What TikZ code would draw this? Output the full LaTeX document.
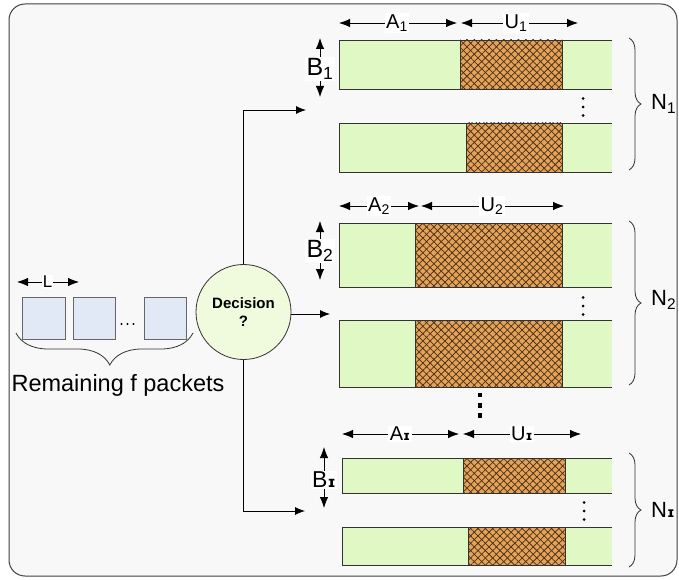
\documentclass[tikz,border=0pt]{standalone}
\usepackage{fontspec}
\setmainfont{Liberation Sans}
\newfontfamily\ipafont{DejaVu Sans}
\usetikzlibrary{arrows.meta,patterns.meta,decorations.pathreplacing}

\definecolor{panelbg}{HTML}{F8F8F8}
\definecolor{slotgreen}{HTML}{E0F8C4}
\definecolor{busyfill}{HTML}{E4A358}
\definecolor{busyline}{HTML}{4A3018}
\definecolor{pktfill}{HTML}{E1E9F6}
\definecolor{decfill}{HTML}{F0FADC}
\definecolor{edgec}{HTML}{333333}

\tikzset{
  conn/.style={draw=black, line width=0.8pt, -{Latex[length=10pt,width=8pt]}},
  dimarrow/.style={draw=black, line width=0.8pt,
    {Latex[length=11pt,width=8.5pt]}-{Latex[length=11pt,width=8.5pt]}},
  dimlab/.style={fill=white, inner sep=1.5pt, font=\fontsize{20}{20}\selectfont},
  blab/.style={fill=white, inner sep=1.5pt, font=\fontsize{25}{25}\selectfont},
  nlab/.style={anchor=west, inner sep=0pt, font=\fontsize{22}{22}\selectfont},
  rbrace/.style={draw=edgec, line width=0.8pt,
    decorate, decoration={brace, amplitude=12pt}},
  packet/.style={draw=black!60, line width=0.8pt, fill=pktfill},
  baredge/.style={draw=edgec, line width=0.8pt},
  smalldot/.style={fill=black},
}

% one slot row: x0, y-top, y-bottom, busy-from, busy-to
\newcommand\slotrow[5]{%
  \fill[slotgreen] (#1,#2) rectangle (612,#3);
  \fill[busyfill] (#4,#2) rectangle (#5,#3);
  \fill[pattern={Lines[angle=45,distance=5.2pt,line width=0.75pt]},
        pattern color=busyline] (#4,#2) rectangle (#5,#3);
  \fill[pattern={Lines[angle=-45,distance=5.2pt,line width=0.75pt]},
        pattern color=busyline] (#4,#2) rectangle (#5,#3);
  \draw[baredge] (612,#2) -- (#1,#2) -- (#1,#3) -- (612,#3);
  \draw[baredge] (#4,#2) rectangle (#5,#3);
}
\newcommand\threedots[2]{%
  \fill[smalldot] (#1,#2-8.5) circle (1.5);
  \fill[smalldot] (#1,#2) circle (1.5);
  \fill[smalldot] (#1,#2+8.5) circle (1.5);
}

\begin{document}
\begin{tikzpicture}[x=1pt,y=-1pt]
\useasboundingbox (0,0) rectangle (679,580);
\fill[white] (0,0) rectangle (679,580);
\draw[draw=black!75, line width=1pt, fill=panelbg, rounded corners=16pt]
  (9,4) rectangle (677,576);

% ---------- packets ----------
\node[packet, minimum width=43pt, minimum height=42pt, inner sep=0pt] (p1) at (43.5,318) {};
\node[packet, minimum width=42pt, minimum height=42pt, inner sep=0pt] (p2) at (94,318) {};
\node[packet, minimum width=42pt, minimum height=42pt, inner sep=0pt] (p3) at (165,318) {};
\fill (121.5,324) circle (1.2) (127.5,324) circle (1.2) (133.5,324) circle (1.2);
\coordinate (la) at (17,282);
\coordinate (lb) at (79,282);
\draw[dimarrow] (la) -- (lb);
\node[fill=white, inner sep=1pt, font=\fontsize{17}{17}\selectfont] (lL) at (47.5,282) {L};
\draw[draw=edgec, line width=0.8pt, decorate,
      decoration={brace, amplitude=32pt, aspect=0.47}] (193,333) -- (16,333);
\node[font=\fontsize{23.5}{23.5}\selectfont, inner sep=0pt] (rem) at (118,385) {Remaining f packets};

% ---------- decision ----------
\node[circle, draw=edgec, line width=0.8pt, fill=decfill, minimum size=95pt,
      inner sep=0pt, align=center, font=\bfseries\fontsize{15}{18}\selectfont]
  (dec) at (243.5,312) {Decision\\?};

\coordinate (g1in) at (306,110);
\coordinate (g2in) at (330,314);
\coordinate (g3in) at (305,511);
\draw[conn] (dec.north) |- (g1in);
\draw[conn] (dec.east |- g2in) -- (g2in);
\draw[conn] (dec.south) |- (g3in);

% ---------- group 1 ----------
\slotrow{339}{40}{89}{460}{562}
\slotrow{339}{123}{172}{466}{562}
\threedots{583}{107}
\coordinate (a1l) at (339,23); \coordinate (a1r) at (457,23);
\coordinate (u1l) at (461,23); \coordinate (u1r) at (578,23);
\draw[dimarrow] (a1l) -- (a1r);
\draw[dimarrow] (u1l) -- (u1r);
\node[dimlab] (A1) at (397,23) {A\textsubscript{1}};
\node[dimlab] (U1) at (516,23) {U\textsubscript{1}};
\coordinate (b1t) at (320,38); \coordinate (b1b) at (320,97);
\draw[dimarrow] (b1t) -- (b1b);
\node[blab] (B1) at (320,69) {B\textsubscript{1}};
\draw[rbrace] (629,38) -- (629,170);
\node[nlab] (N1) at (651,104) {N\textsubscript{1}};

% ---------- group 2 ----------
\slotrow{339}{223}{287}{415}{562}
\slotrow{339}{320}{387}{415}{562}
\threedots{583}{306}
\coordinate (a2l) at (339,206); \coordinate (a2r) at (419,206);
\coordinate (u2l) at (421,206); \coordinate (u2r) at (564,206);
\draw[dimarrow] (a2l) -- (a2r);
\draw[dimarrow] (u2l) -- (u2r);
\node[dimlab] (A2) at (379,206) {A\textsubscript{2}};
\node[dimlab] (U2) at (492,206) {U\textsubscript{2}};
\coordinate (b2t) at (320,221); \coordinate (b2b) at (320,280);
\draw[dimarrow] (b2t) -- (b2b);
\node[blab] (B2) at (320,251) {B\textsubscript{2}};
\draw[rbrace] (629,221) -- (629,385);
\node[nlab] (N2) at (651,300) {N\textsubscript{2}};

% gap between groups
\fill (477.6,392.6) rectangle ++(4.8,4.8);
\fill (477.6,403.0) rectangle ++(4.8,4.8);
\fill (477.6,413.4) rectangle ++(4.8,4.8);

% ---------- group I ----------
\slotrow{342}{458}{493}{463}{565}
\slotrow{342}{527}{565}{468}{565}
\threedots{584}{511}
\coordinate (ail) at (342,434); \coordinate (air) at (459,434);
\coordinate (uil) at (463,434); \coordinate (uir) at (581,434);
\draw[dimarrow] (ail) -- (air);
\draw[dimarrow] (uil) -- (uir);
\node[dimlab] (AI) at (400,434) {A{\ipafont\bfseries\fontsize{13}{13}\selectfont ɪ}};
\node[dimlab] (UI) at (522,434) {U{\ipafont\bfseries\fontsize{13}{13}\selectfont ɪ}};
\coordinate (bit) at (324,447); \coordinate (bib) at (324,508);
\draw[dimarrow] (bit) -- (bib);
\node[fill=white, inner sep=1.5pt, font=\fontsize{23}{23}\selectfont] (BI) at (324,480)
  {B{\ipafont\bfseries\fontsize{15}{15}\selectfont ɪ}};
\draw[rbrace] (629,453) -- (629,567);
\node[nlab] (NI) at (651,510) {N{\ipafont\bfseries\fontsize{14}{14}\selectfont ɪ}};
\end{tikzpicture}
\end{document}
